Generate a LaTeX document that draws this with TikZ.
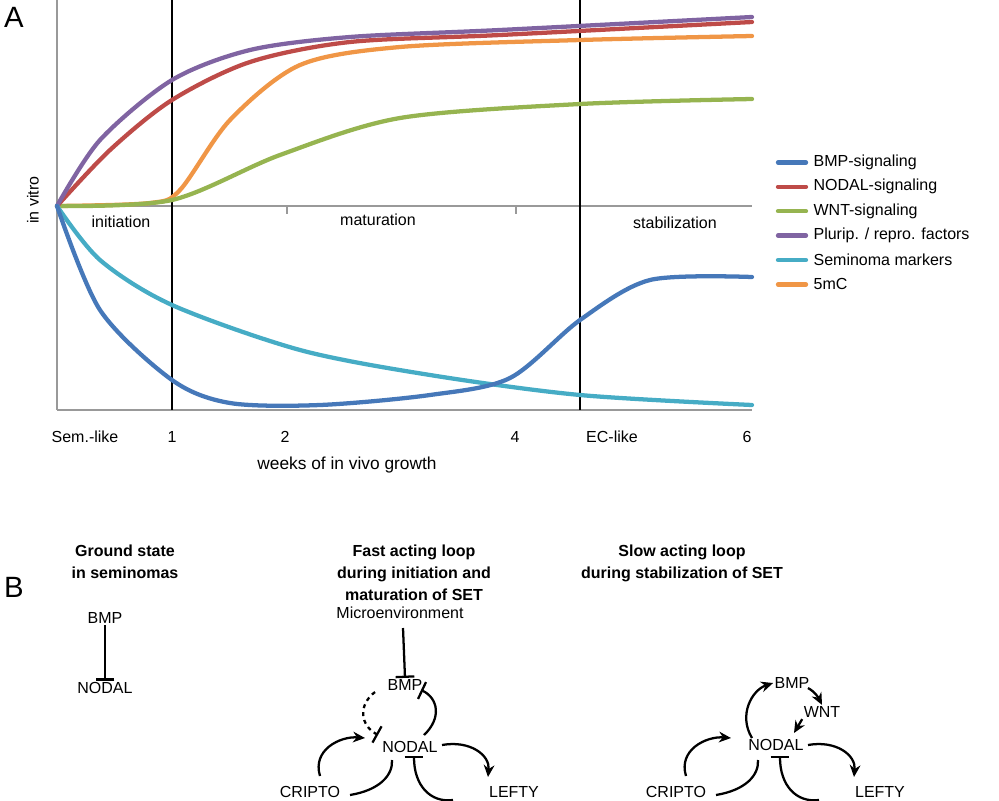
\documentclass[tikz,border=0pt]{standalone}
\usepackage{fontspec}
\setmainfont{Liberation Sans}
\usetikzlibrary{arrows.meta}
\definecolor{cbmp}{RGB}{70,120,185}
\definecolor{cnodal}{RGB}{190,75,72}
\definecolor{cwnt}{RGB}{150,180,80}
\definecolor{cplur}{RGB}{128,100,162}
\definecolor{csem}{RGB}{70,172,197}
\definecolor{cmc}{RGB}{240,150,70}
\tikzset{
  curve/.style={line width=3.2pt,line cap=round},
  gaxis/.style={draw=gray!80,line width=1.6pt},
  lbl/.style={font=\fontsize{12}{14}\selectfont,inner sep=1pt},
  slbl/.style={font=\fontsize{12}{14}\selectfont,inner sep=1pt},
  ttl/.style={font=\bfseries\fontsize{12}{16.5}\selectfont,align=center,anchor=north},
  act/.style={line width=1.7pt,-{Stealth[length=9pt,width=8pt]}},
  inh/.style={line width=1.7pt,-{Bar[width=14pt]}}
}
\begin{document}
\begin{tikzpicture}[x=0.75pt,y=-0.75pt]
\useasboundingbox (0,0) rectangle (999,800);
% panel A
\node[font=\fontsize{22}{22}\selectfont] (A) at (14,17) {A};
\draw[gaxis] (57,0) -- (57,410);
\draw[gaxis] (57,206) -- (752,206);
\draw[gaxis] (57,410) -- (752,410);
\foreach \x in {287,516} \draw[gray!80,thick] (\x,206) -- (\x,214);
\draw[line width=1.5pt] (172,0) -- (172,410);
\draw[line width=1.5pt] (580,0) -- (580,410);
\draw[curve,cmc] plot[smooth] coordinates {(57,206) (150,203) (180,190) (230,120) (300,65) (400,47) (580,40) (752,36)};
\draw[curve,cwnt] plot[smooth] coordinates {(57,206) (172,200) (280,155) (400,118) (580,104) (752,99)};
\draw[curve,cnodal] plot[smooth] coordinates {(57,206) (110,150) (172,100) (250,62) (350,42) (500,35) (752,22)};
\draw[curve,cplur] plot[smooth] coordinates {(57,206) (100,140) (172,80) (250,50) (350,37) (500,30) (752,17)};
\draw[curve,csem] plot[smooth] coordinates {(57,206) (100,260) (172,305) (300,350) (430,375) (580,395) (752,405)};
\draw[curve,cbmp] plot[smooth] coordinates {(57,206) (100,310) (172,380) (230,403) (320,405) (430,395) (510,378) (580,320) (650,280) (752,277)};
\node[lbl,rotate=90] (vitro) at (33,200) {in vitro};
\node[lbl] (ini) at (121,222) {initiation};
\node[lbl] (mat) at (378,220) {maturation};
\node[lbl] (sta) at (675,223) {stabilization};
\foreach \x/\t/\n in {85/Sem.-like/t0,172/1/t1,285/2/t2,515/4/t4,612/EC-like/tec,747/6/t6}
  \node[lbl] (\n) at (\x,437) {\t};
\node[lbl,font=\fontsize{13}{15}\selectfont] (weeks) at (347,465) {weeks of in vivo growth};
% legend
\foreach \c/\t [count=\i] in {cbmp/{BMP-signaling},cnodal/{NODAL-signaling},cwnt/{WNT-signaling},cplur/{Plurip. / repro. factors},csem/{Seminoma markers},cmc/{5mC}}{
  \draw[curve,\c] (778,138+24.4*\i) -- (806,138+24.4*\i);
  \node[lbl,anchor=west] (leg\i) at (812,138+24.4*\i) {\t};
}
% panel B
\node[font=\fontsize{22}{22}\selectfont] (B) at (14,587) {B};
\node[ttl] (t1) at (125,540) {Ground state\\in seminomas};
\node[ttl] (t2) at (414,540) {Fast acting loop\\during initiation and\\maturation of SET};
\node[ttl] (t3) at (682,540) {Slow acting loop\\during stabilization of SET};
% ground state
\node[slbl] (bmpA) at (105,618) {BMP};
\node[slbl] (nodA) at (105,688) {NODAL};
\draw[inh] (bmpA) -- (nodA);
% fast loop
\node[slbl] (micro) at (400,613) {Microenvironment};
\node[slbl] (bmpB) at (405,685) {BMP};
\node[slbl] (nodB) at (410,747) {NODAL};
\node[slbl] (criB) at (310,792) {CRIPTO};
\node[slbl] (lefB) at (514,792) {LEFTY};
\draw[inh] (403,628) -- (bmpB.north);
\draw[line width=1.7pt,dashed,-{Bar[width=14pt]}] (375,692) .. controls (358,705) and (360,725) .. (378,735);
\draw[inh] (424,735) .. controls (442,718) and (438,698) .. (421,690);
\draw[act] (320,776) .. controls (312,750) and (340,736) .. (365,738);
\draw[line width=1.7pt] (350,795) .. controls (380,790) and (393,775) .. (392,760);
\draw[act] (442,745) .. controls (470,740) and (490,755) .. (488,777);
\draw[inh] (453,800) .. controls (430,803) and (414,785) .. (414,756);
% slow loop
\node[slbl] (bmpC) at (792,683) {BMP};
\node[slbl] (wntC) at (822,712) {WNT};
\node[slbl] (nodC) at (776,745) {NODAL};
\node[slbl] (criC) at (676,792) {CRIPTO};
\node[slbl] (lefC) at (880,792) {LEFTY};
\draw[act] (752,738) .. controls (738,715) and (752,690) .. (bmpC.west);
\draw[act] (808,688) .. controls (815,692) and (818,697) .. (wntC.north);
\draw[act] (wntC.south west) -- (794,733);
\draw[act] (686,776) .. controls (678,750) and (706,736) .. (731,738);
\draw[line width=1.7pt] (716,795) .. controls (746,790) and (759,775) .. (758,760);
\draw[act] (808,745) .. controls (836,740) and (856,755) .. (854,777);
\draw[inh] (819,800) .. controls (796,803) and (780,785) .. (780,756);
\end{tikzpicture}
\end{document}
